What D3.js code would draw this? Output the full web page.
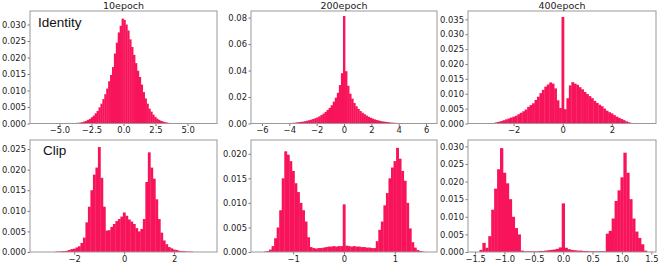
<!DOCTYPE html>
<html>
<head>
<meta charset="utf-8">
<script src="https://cdn.jsdelivr.net/npm/d3@7"></script>
<style>
  body { margin: 0; background: #fff; }
  text { font-family: "DejaVu Sans", sans-serif; }
</style>
</head>
<body>
<div id="panel"></div>
<script>
var w = 663;
var h = 266;

// column titles and row labels
var titles = ['10epoch', '200epoch', '400epoch'];
var rowLabels = ['Identity', 'Clip'];

// histogram heights, one value per bin
var id10 = [0.0001,0.0001,0.0002,0.0002,0.0003,0.0004,0.0006,0.0008,0.0011,0.0014,
  0.0019,0.0024,0.0031,0.0038,0.0049,0.0060,0.0074,0.0089,0.0106,0.0128,
  0.0147,0.0171,0.0212,0.0245,0.0276,0.0296,0.0318,0.0314,0.0300,0.0282,
  0.0255,0.0232,0.0208,0.0183,0.0160,0.0141,0.0118,0.0095,0.0076,0.0060,
  0.0045,0.0036,0.0027,0.0020,0.0015,0.0011,0.0008,0.0006,0.0004,0.0003,
  0.0002,0.0001,0.0001,0.0001];
var id200 = [0.0002,0.0002,0.0003,0.0003,0.0004,0.0005,0.0006,0.0008,0.0010,0.0012,
  0.0014,0.0017,0.0021,0.0025,0.0029,0.0034,0.0040,0.0046,0.0054,0.0064,
  0.0075,0.0088,0.0102,0.0118,0.0138,0.0165,0.0195,0.0232,0.0290,0.0380,
  0.0812,
  0.0395,0.0285,0.0225,0.0188,0.0155,0.0130,0.0110,0.0094,0.0081,0.0070,
  0.0060,0.0051,0.0043,0.0037,0.0031,0.0026,0.0022,0.0018,0.0015,0.0013,
  0.0011,0.0009,0.0007,0.0006,0.0005,0.0004,0.0003,0.0003,0.0002,0.0002];
var id400 = [0.0001,0.0002,0.0004,0.0006,0.0008,0.0011,0.0014,0.0017,0.0020,0.0023,
  0.0026,0.0031,0.0036,0.0041,0.0047,0.0056,0.0062,0.0068,0.0079,0.0090,
  0.0102,0.0113,0.0124,0.0131,0.0138,0.0134,0.0118,0.0078,0.0052,
  0.0358,
  0.0048,0.0085,0.0128,0.0139,0.0134,0.0130,0.0122,0.0115,0.0106,0.0099,
  0.0092,0.0085,0.0076,0.0069,0.0063,0.0058,0.0050,0.0043,0.0038,0.0034,
  0.0028,0.0023,0.0019,0.0015,0.0011,0.0007,0.0004,0.0002,0.0001];
var clip10 = [0.0001,0.0001,0.0002,0.0002,0.0003,0.0005,0.0007,0.0008,0.0011,0.0014,
  0.0022,0.0035,0.0072,0.0110,0.0150,0.0188,0.0205,0.0255,0.0180,0.0110,
  0.0052,0.0053,0.0061,0.0068,0.0075,0.0080,0.0086,
  0.0096,
  0.0088,0.0079,0.0074,0.0068,0.0058,0.0050,0.0056,0.0080,0.0170,0.0242,
  0.0205,0.0178,0.0128,0.0080,0.0047,0.0028,0.0019,0.0012,0.0009,0.0006,
  0.0005,0.0003,0.0002,0.0002,0.0001,0.0001,0.0001];
var clip200 = [0.0000,0.0001,0.0002,0.0005,0.0012,0.0028,0.0050,0.0085,0.0150,0.0205,
  0.0198,0.0185,0.0165,0.0140,0.0122,0.0100,0.0085,0.0062,0.0030,0.0010,
  0.0008,0.0007,0.0008,0.0008,0.0009,0.0010,0.0011,0.0011,0.0012,0.0011,
  0.0012,0.0012,
  0.0097,
  0.0013,0.0012,0.0011,0.0012,0.0011,0.0011,0.0010,0.0010,0.0009,0.0009,
  0.0008,0.0008,0.0022,0.0045,0.0062,0.0095,0.0120,0.0150,0.0172,0.0185,
  0.0212,0.0190,0.0165,0.0145,0.0100,0.0048,0.0020,0.0009,0.0004,0.0002,
  0.0001,0.0000];
var clip400 = [0.0000,0.0006,0.0026,0.0012,0.0045,0.0120,0.0180,0.0235,0.0295,0.0225,
  0.0195,0.0150,0.0100,0.0068,0.0050,0.0004,0.0002,0.0002,0.0002,0.0002,
  0.0002,0.0003,0.0003,0.0004,0.0005,0.0006,0.0007,0.0009,0.0013,
  0.0138,
  0.0012,0.0008,0.0006,0.0005,0.0004,0.0004,0.0003,0.0003,0.0002,0.0002,
  0.0002,0.0002,0.0002,0.0002,0.0052,0.0060,0.0095,0.0145,0.0175,0.0212,
  0.0282,0.0225,0.0150,0.0095,0.0058,0.0040,0.0022,0.0004,0.0000];

// left edge of the first bin and bin width per panel
var binStart = [-4.05, -4.575, -2.95, -2.75, -1.625, -1.475];
var binWidth = [0.15, 0.15, 0.1, 0.1, 0.05, 0.05];

var xDomains = [[-7.3, 7.3], [-6.8, 6.8], [-3.86, 3.8], [-3.77, 3.72], [-1.83, 1.83], [-1.62, 1.58]];
var yMax = [0.0341, 0.085, 0.0378, 0.0272, 0.0228, 0.0318];

var xTicks = [
  [-5, -2.5, 0, 2.5, 5],
  [-6, -4, -2, 0, 2, 4, 6],
  [-2, 0, 2],
  [-2, 0, 2],
  [-1, 0, 1],
  [-1.5, -1, -0.5, 0, 0.5, 1, 1.5]
];
var yTicks = [
  [0, 0.005, 0.01, 0.015, 0.02, 0.025, 0.03],
  [0, 0.02, 0.04, 0.06, 0.08],
  [0, 0.005, 0.01, 0.015, 0.02, 0.025, 0.03, 0.035],
  [0, 0.005, 0.01, 0.015, 0.02, 0.025],
  [0, 0.005, 0.01, 0.015, 0.02],
  [0, 0.005, 0.01, 0.015, 0.02, 0.025, 0.03]
];
var xFormats = ['.1f', 'd', 'd', 'd', 'd', '.1f'];
var yFormats = ['.3f', '.2f', '.3f', '.3f', '.3f', '.3f'];

var series = [id10, id200, id400, clip10, clip200, clip400];

// panel frames
var colX = [30, 251, 468];
var colW = [187, 186, 188];
var rowY = [11, 140];
var rowH = [112.5, 112];
var labelDx = [8, 13];
var labelDy = [16, 15];

var svg = d3.select('#panel').append('svg')
  .attr('width', w).attr('height', h)
  .style('display', 'block');

series.forEach(function (vals, k) {
  var col = k % 3;
  var row = Math.floor(k / 3);
  var pw = colW[col];
  var ph = rowH[row];

  var g = svg.append('g')
    .attr('transform', 'translate(' + colX[col] + ',' + rowY[row] + ')');

  var x = d3.scaleLinear().domain(xDomains[k]).range([0, pw]);
  var y = d3.scaleLinear().domain([0, yMax[k]]).range([ph, 0]);
  var bw = binWidth[k];

  // bars overlap a hair so no seams show between neighbours
  g.append('g').selectAll('rect')
    .data(vals)
    .enter()
    .append('rect')
    .attr('x', function (d, i) { return x(binStart[k] + i * bw); })
    .attr('width', function () { return x(bw) - x(0) + 0.35; })
    .attr('y', function (d) { return y(d); })
    .attr('height', function (d) { return ph - y(d); })
    .attr('fill', '#f8145a');

  var xAxis = g.append('g')
    .attr('transform', 'translate(0,' + ph + ')')
    .call(d3.axisBottom(x).tickValues(xTicks[k]).tickFormat(d3.format(xFormats[k]))
      .tickSize(2.5).tickPadding(1.5));
  var yAxis = g.append('g')
    .call(d3.axisLeft(y).tickValues(yTicks[k]).tickFormat(d3.format(yFormats[k]))
      .tickSize(2.5).tickPadding(1.5));

  [xAxis, yAxis].forEach(function (a) {
    a.select('.domain').remove();
    a.selectAll('line').attr('stroke', '#555').attr('stroke-width', 0.8);
    a.selectAll('text')
      .attr('fill', '#222')
      .style('font-family', '"DejaVu Sans", sans-serif')
      .style('font-size', '8.4px');
  });

  // frame (all four spines)
  g.append('rect')
    .attr('x', 0).attr('y', 0)
    .attr('width', pw).attr('height', ph)
    .attr('fill', 'none')
    .attr('stroke', '#999')
    .attr('stroke-width', 1);

  if (row === 0) {
    g.append('text')
      .attr('x', pw / 2)
      .attr('y', -2.5)
      .attr('text-anchor', 'middle')
      .attr('fill', '#222')
      .style('font-size', '9.5px')
      .text(titles[col]);
  }
  if (col === 0) {
    g.append('text')
      .attr('x', labelDx[row])
      .attr('y', labelDy[row])
      .attr('fill', '#111')
      .style('font-family', '"Liberation Sans", Arial, sans-serif')
      .style('font-size', '13.5px')
      .text(rowLabels[row]);
  }
});
</script>
</body>
</html>
